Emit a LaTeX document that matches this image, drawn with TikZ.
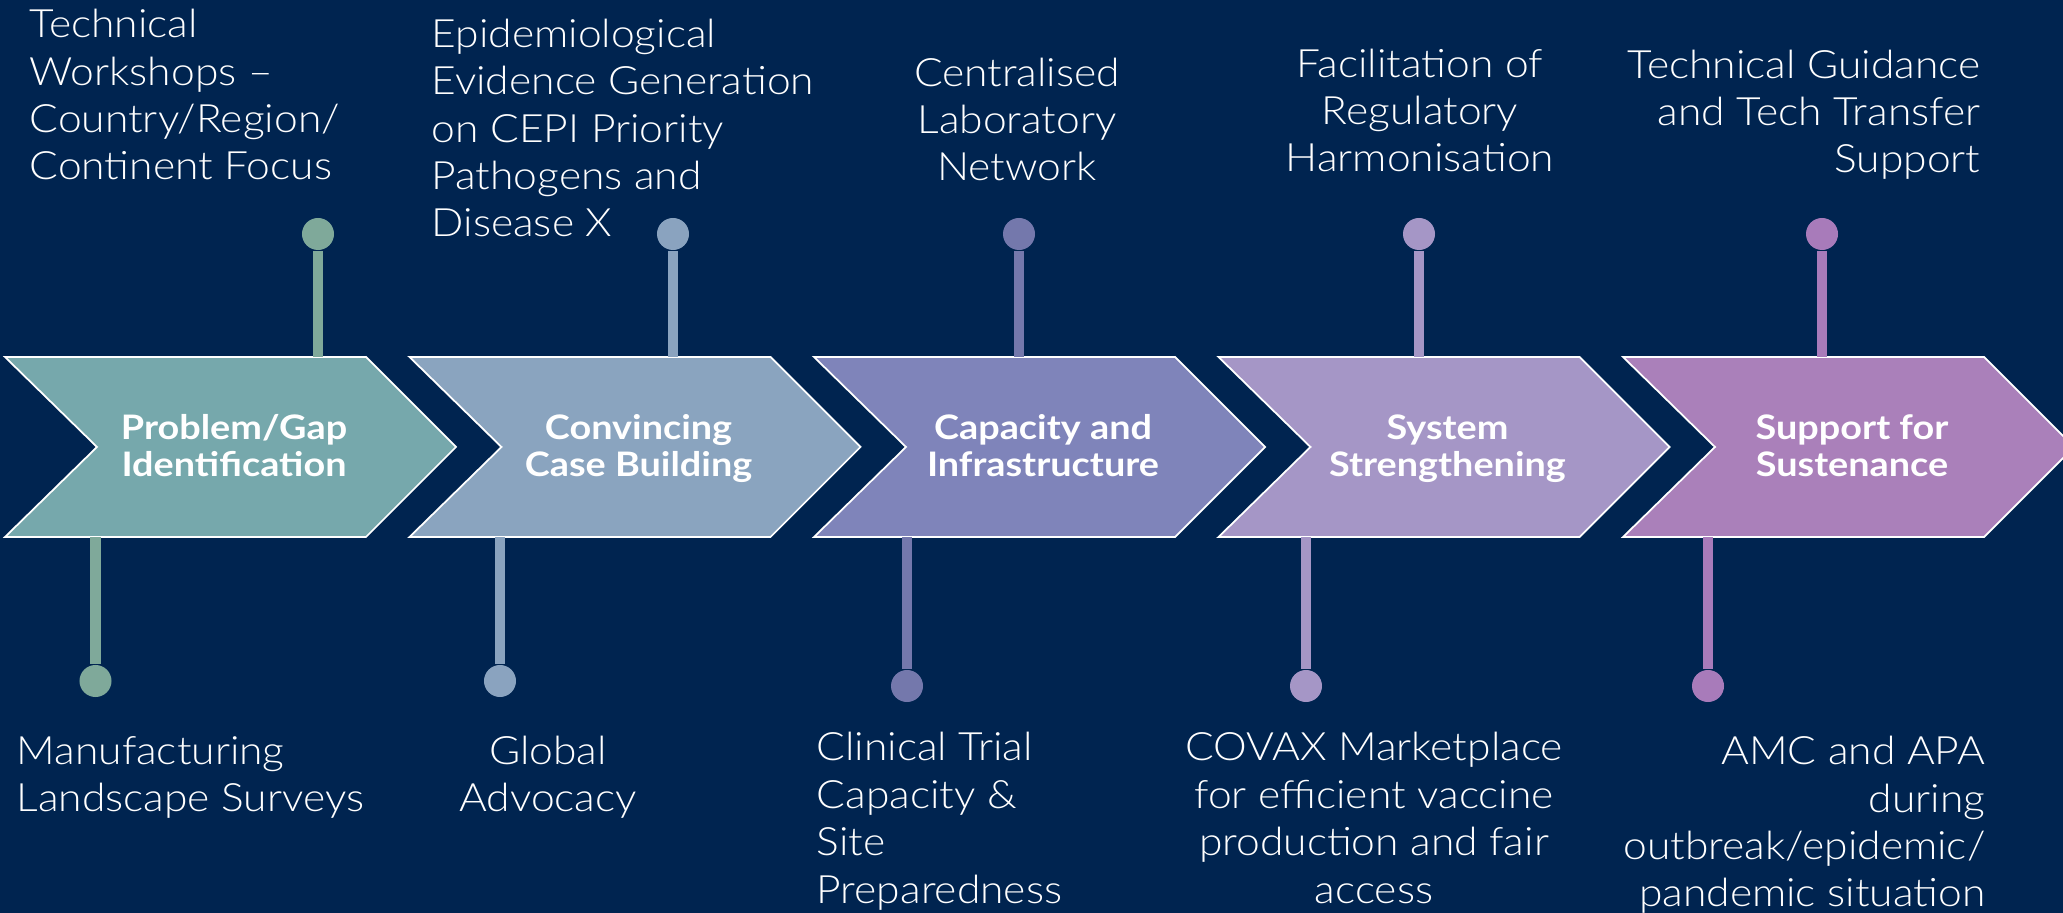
\documentclass[tikz,border=0pt]{standalone}
\usepackage{fontspec}
\setmainfont{Lato}
\newfontfamily\notefont{Lato Light}[FakeStretch=1.09]
\newfontfamily\stagefont{Lato}[FakeStretch=1.12]
\usepackage{xcolor}
\usepackage{tikz}
\usetikzlibrary{positioning}

\definecolor{navy}{RGB}{0,36,80}
\definecolor{stepA}{RGB}{118,168,172}
\definecolor{stepB}{RGB}{138,164,191}
\definecolor{stepC}{RGB}{127,132,186}
\definecolor{stepD}{RGB}{165,150,198}
\definecolor{stepE}{RGB}{170,128,186}
\definecolor{pinA}{RGB}{127,169,154}
\definecolor{pinB}{RGB}{138,163,191}
\definecolor{pinC}{RGB}{116,120,172}
\definecolor{pinD}{RGB}{165,150,198}
\definecolor{pinE}{RGB}{168,123,186}

\begin{document}
\begin{tikzpicture}[x=0.01cm,y=-0.01cm]
	\tikzset{chev/.style={draw=white,line width=0.5pt}}
	\tikzset{stage/.style={text=white,inner sep=0pt,align=center,anchor=base,font=\stagefont\fontsize{9.6}{10.8}\selectfont\bfseries}}
	\tikzset{note/.style={text=white,inner sep=0pt,font=\notefont\fontsize{11.1}{13.5}\selectfont}}
	\tikzset{dot/.style={circle,fill=#1,inner sep=0pt,minimum size=0.32cm}}
	\tikzset{stem/.style={draw=#1,line width=3pt}}

\useasboundingbox (0,0) rectangle (2063,913);
\clip (0,0) rectangle (2063,913);
\fill[navy] (0,0) rectangle (2063,913);

% chevrons
\fill[stepA,chev] (5,357) -- (366,357) -- (456,447) -- (366,537) -- (5,537) -- (97,447) -- cycle;
\fill[stepB,chev] (409.5,357) -- (770.5,357) -- (860.5,447) -- (770.5,537) -- (409.5,537) -- (501.5,447) -- cycle;
\fill[stepC,chev] (814,357) -- (1175,357) -- (1265,447) -- (1175,537) -- (814,537) -- (906,447) -- cycle;
\fill[stepD,chev] (1218.5,357) -- (1579.5,357) -- (1669.5,447) -- (1579.5,537) -- (1218.5,537) -- (1310.5,447) -- cycle;
\fill[stepE,chev] (1623,357) -- (1984,357) -- (2074,447) -- (1984,537) -- (1623,537) -- (1715,447) -- cycle;

\node[stage] (stage1) at (234,477) {Problem/Gap\\Identification};
\node[stage] (stage2) at (638.5,477) {Convincing\\Case Building};
\node[stage] (stage3) at (1043,477) {Capacity and\\Infrastructure};
\node[stage] (stage4) at (1447.5,477) {System\\Strengthening};
\node[stage] (stage5) at (1852,477) {Support for\\Sustenance};

% pins above
\coordinate (up1) at (318,357);
\coordinate (up2) at (673,357);
\coordinate (up3) at (1019,357);
\coordinate (up4) at (1419,357);
\coordinate (up5) at (1822,357);
\node[dot=pinA] (pu1) at (318,234) {};
\node[dot=pinB] (pu2) at (673,234) {};
\node[dot=pinC] (pu3) at (1019,234) {};
\node[dot=pinD] (pu4) at (1419,234) {};
\node[dot=pinE] (pu5) at (1822,234) {};
\draw[stem=pinA] (up1) -- (pu1);
\draw[stem=pinB] (up2) -- (pu2);
\draw[stem=pinC] (up3) -- (pu3);
\draw[stem=pinD] (up4) -- (pu4);
\draw[stem=pinE] (up5) -- (pu5);

% pins below
\coordinate (dn1) at (95.5,537);
\coordinate (dn2) at (500,537);
\coordinate (dn3) at (907,537);
\coordinate (dn4) at (1306,537);
\coordinate (dn5) at (1708,537);
\node[dot=pinA] (pd1) at (95.5,681) {};
\node[dot=pinB] (pd2) at (500,681) {};
\node[dot=pinC] (pd3) at (907,686) {};
\node[dot=pinD] (pd4) at (1306,686) {};
\node[dot=pinE] (pd5) at (1708,686) {};
\draw[stem=pinA] (dn1) -- (pd1);
\draw[stem=pinB] (dn2) -- (pd2);
\draw[stem=pinC] (dn3) -- (pd3);
\draw[stem=pinD] (dn4) -- (pd4);
\draw[stem=pinE] (dn5) -- (pd5);

% texts (anchored at the last line)
\node[note,align=left,anchor=base west] (top1) at (29,180) {Technical\\Workshops –\\Country/Region/\\Continent Focus};
\node[note,align=left,anchor=base west] (top2) at (431,237) {Epidemiological\\Evidence Generation\\on CEPI Priority\\Pathogens and\\Disease X};
\node[note,align=center,anchor=base] (top3) at (1017,181) {Centralised\\Laboratory\\Network};
\node[note,align=center,anchor=base] (top4) at (1420,172) {Facilitation of\\Regulatory\\Harmonisation};
\node[note,align=right,anchor=base east] (top5) at (1981,173) {Technical Guidance\\and Tech Transfer\\Support};

\node[note,align=left,anchor=base west] (bot1) at (16,812) {Manufacturing\\Landscape Surveys};
\node[note,align=center,anchor=base] (bot2) at (548,812) {Global\\Advocacy};
\node[note,align=left,anchor=base west] (bot3) at (816,903) {Clinical Trial\\Capacity \&\\Site\\Preparedness};
\node[note,align=center,anchor=base] (bot4) at (1374,903) {COVAX Marketplace\\for efficient vaccine\\production and fair\\access};
\node[note,align=right,anchor=base east] (bot5) at (1986,907) {AMC and APA\\during\\outbreak/epidemic/\\pandemic situation};

\end{tikzpicture}
\end{document}
